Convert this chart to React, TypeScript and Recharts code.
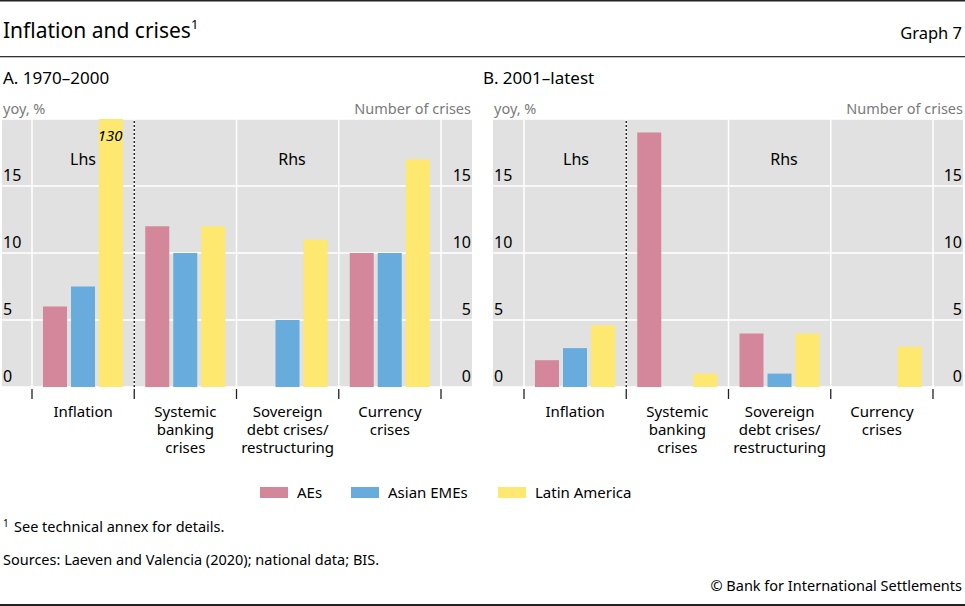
import React from 'react';
import { BarChart, Bar, XAxis, YAxis, CartesianGrid, LabelList } from 'recharts';

const categories = [
  'Inflation',
  'Systemic\nbanking\ncrises',
  'Sovereign\ndebt crises/\nrestructuring',
  'Currency\ncrises',
];
// Panel A, 1970–2000
const aesA = [6, 12, 0, 10];
const asiaA = [7.5, 10, 5, 10];
const latamA = [130, 12, 11, 17];
// Panel B, 2001–latest
const aesB = [2, 19, 4, 0];
const asiaB = [2.9, 0, 1, 0];
const latamB = [4.6, 1, 4, 3];
const yTicks = [0, 5, 10, 15];

const series = [
  { key: 'aes', name: 'AEs', color: '#d4879a' },
  { key: 'asia', name: 'Asian EMEs', color: '#67acdd' },
  { key: 'latam', name: 'Latin America', color: '#fee86f' },
];

const FONT = '"Noto Sans", "Open Sans", sans-serif';
const W = 480;
const H = 360;
const TOP = 19;
const AXIS_H = 73;
const PLOT_H = H - TOP - AXIS_H;

type PanelProps = {
  left: number;
  margin: { left: number; right: number };
  pad: { left: number; right: number };
  aes: number[];
  asia: number[];
  latam: number[];
};

const Panel = ({ left, margin, pad, aes, asia, latam }: PanelProps) => {
  const rows = categories.map((name, i) => ({ name, aes: aes[i], asia: asia[i], latam: latam[i] }));
  const band = (W - margin.left - margin.right - pad.left - pad.right) / categories.length;

  const XTick = (p: any) => {
    const { x, y, payload, index } = p;
    const lines = String(payload.value).split('\n');
    const half = band / 2;
    return (
      <g>
        <line x1={x - half} x2={x - half} y1={y + 2} y2={y + 12} stroke="#222" strokeWidth={1.3} />
        {index === categories.length - 1 && (
          <line x1={x + half} x2={x + half} y1={y + 2} y2={y + 12} stroke="#222" strokeWidth={1.3} />
        )}
        {index === 1 && (
          <line x1={x - half} x2={x - half} y1={y} y2={y - PLOT_H} stroke="#111" strokeWidth={1.3} strokeDasharray="2 2" />
        )}
        {lines.map((l, i) => (
          <text key={i} x={x} y={y + 30 + i * 18} textAnchor="middle" fontSize={15} fill="#000">
            {l}
          </text>
        ))}
      </g>
    );
  };

  const YTick = (p: any) => (
    <text x={p.x} y={p.y - 5} textAnchor={p.textAnchor} fontSize={16} fill="#000">
      {p.payload.value}
    </text>
  );

  return (
    <div style={{ position: 'absolute', left, top: 100 }}>
      <BarChart
        width={W}
        height={H}
        data={rows}
        margin={{ top: TOP, right: margin.right, bottom: 0, left: margin.left }}
        barSize={24}
        barGap={4}
      >
        <CartesianGrid
          yAxisId="l"
          fill="#e1e1e1"
          fillOpacity={1}
          stroke="#fff"
          strokeWidth={1.5}
          verticalCoordinatesGenerator={({ offset }: any) =>
            categories.map((_, i) => offset.left + pad.left + i * band).concat(offset.left + pad.left + categories.length * band)
          }
        />
        <XAxis
          dataKey="name"
          interval={0}
          padding={pad}
          height={AXIS_H}
          axisLine={false}
          tickLine={false}
          tickSize={0}
          tickMargin={0}
          tick={<XTick />}
        />
        <YAxis
          yAxisId="l"
          orientation="left"
          mirror
          width={1}
          domain={[0, 20]}
          allowDataOverflow
          ticks={yTicks}
          axisLine={false}
          tickLine={false}
          tickSize={0}
          tickMargin={1}
          tick={<YTick />}
        />
        <YAxis
          yAxisId="r"
          orientation="right"
          mirror
          width={1}
          domain={[0, 20]}
          allowDataOverflow
          ticks={yTicks}
          axisLine={false}
          tickLine={false}
          tickSize={0}
          tickMargin={1}
          tick={<YTick />}
        />
        {series.map((s) => (
          <Bar key={s.key} yAxisId="l" dataKey={s.key} name={s.name} fill={s.color} isAnimationActive={false}>
            {s.key === 'latam' && (
              <LabelList
                dataKey="latam"
                content={(lp: any) =>
                  Number(lp.value) > 20 ? (
                    <text x={lp.x + lp.width - 0.5} y={TOP + 22} textAnchor="end" fontSize={15} fontStyle="italic" fill="#000">
                      {lp.value}
                    </text>
                  ) : null
                }
              />
            )}
          </Bar>
        ))}
      </BarChart>
    </div>
  );
};

const App: React.FC = () => {
  return (
    <div style={{ position: 'absolute', left: 0, top: 0, width: 965, height: 606, background: '#fff', fontFamily: FONT, overflow: 'hidden' }}>
      <svg width={965} height={606} style={{ position: 'absolute', left: 0, top: 0 }} fontFamily={FONT}>
        <rect x={0} y={0} width={965} height={1.5} fill="#222" />
        <text x={3} y={38} fontSize={21} fill="#000">
          Inflation and crises
          <tspan fontSize={13} dy={-9}>1</tspan>
        </text>
        <text x={962} y={39} fontSize={16.5} textAnchor="end" fill="#000">Graph 7</text>
        <rect x={0} y={56} width={965} height={1.3} fill="#333" />

        <text x={3} y={84} fontSize={17} fill="#000">A. 1970–2000</text>
        <text x={483} y={84} fontSize={17} fill="#000">B. 2001–latest</text>
        <text x={3} y={114} fontSize={14.5} fill="#7a7a7a">yoy, %</text>
        <text x={471} y={114} fontSize={14.5} textAnchor="end" fill="#7a7a7a">Number of crises</text>
        <text x={494} y={114} fontSize={14.5} fill="#7a7a7a">yoy, %</text>
        <text x={963} y={114} fontSize={14.5} textAnchor="end" fill="#7a7a7a">Number of crises</text>

        {[260, 351, 498].map((x, i) => (
          <g key={series[i].key}>
            <rect x={x} y={487} width={28} height={11} fill={series[i].color} />
            <text x={x + 37} y={498} fontSize={15} fill="#000">{series[i].name}</text>
          </g>
        ))}

        <text x={3} y={527} fontSize={10} fill="#000">1</text>
        <text x={14} y={532} fontSize={14.5} fill="#000">See technical annex for details.</text>
        <text x={3} y={565} fontSize={14.5} fill="#000">Sources: Laeven and Valencia (2020); national data; BIS.</text>
        <text x={962} y={591} fontSize={14.5} textAnchor="end" fill="#000">© Bank for International Settlements</text>
        <rect x={0} y={604} width={965} height={2} fill="#222" />
      </svg>

      <Panel left={0} margin={{ left: 2, right: 8 }} pad={{ left: 30, right: 31 }} aes={aesA} asia={asiaA} latam={latamA} />
      <Panel left={485} margin={{ left: 8, right: 2 }} pad={{ left: 31, right: 30 }} aes={aesB} asia={asiaB} latam={latamB} />

      <svg width={965} height={606} style={{ position: 'absolute', left: 0, top: 0, pointerEvents: 'none' }} fontFamily={FONT}>
        <text x={83} y={165} fontSize={16} textAnchor="middle" fill="#000">Lhs</text>
        <text x={292} y={165} fontSize={16} textAnchor="middle" fill="#000">Rhs</text>
        <text x={576} y={165} fontSize={16} textAnchor="middle" fill="#000">Lhs</text>
        <text x={784} y={165} fontSize={16} textAnchor="middle" fill="#000">Rhs</text>
      </svg>
    </div>
  );
};

export default App;
